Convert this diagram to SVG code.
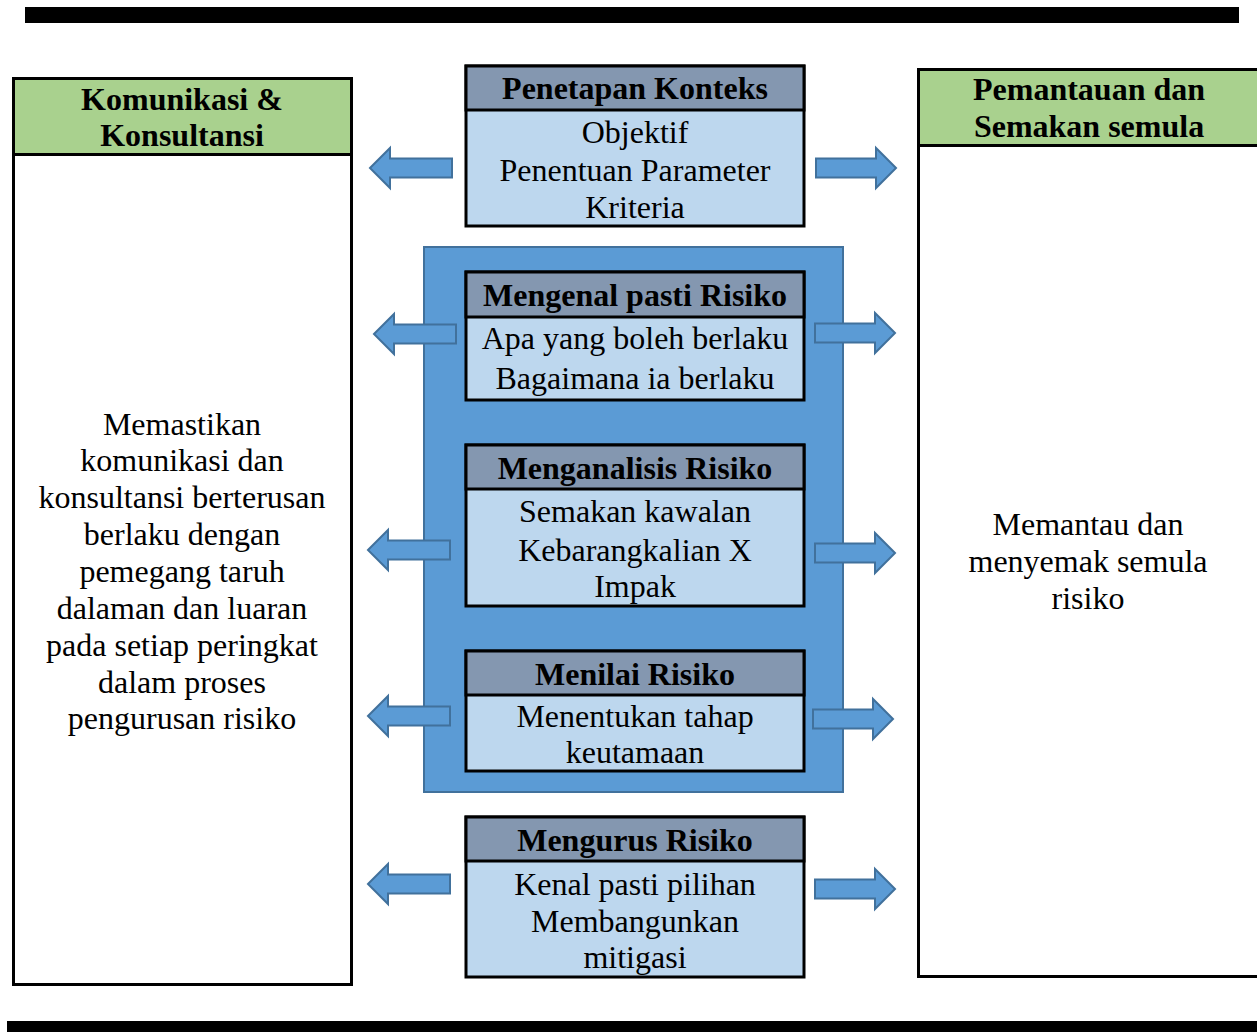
<svg xmlns="http://www.w3.org/2000/svg" width="1257" height="1032" viewBox="0 0 1257 1032">
<defs>
<style>
.t{font-family:"Liberation Serif","Times New Roman",serif;font-size:32px;fill:#000;text-anchor:middle}
.b{font-weight:bold}
.hd{fill:#8497b0;stroke:#000;stroke-width:3}
.bd{fill:#bdd7ee;stroke:#000;stroke-width:3}
.gr{fill:#a9d18e;stroke:#000;stroke-width:3}
.wh{fill:#fff;stroke:#000;stroke-width:3}
.ar{fill:#5b9bd5;stroke:#41719c;stroke-width:2;stroke-linejoin:miter}
</style>
<path id="la" d="M0,0 L20,-20 L20,-9.5 L82,-9.5 L82,9.5 L20,9.5 L20,20 Z"/>
<path id="ra" d="M0,0 L-20,-20 L-20,-9.5 L-80,-9.5 L-80,9.5 L-20,9.5 L-20,20 Z"/>
</defs>
<rect width="1257" height="1032" fill="#fff"/>
<rect x="25" y="7" width="1214" height="16" fill="#000"/>
<rect x="7" y="1021" width="1250" height="11" fill="#000"/>

<g id="komunikasi">
<rect class="wh" x="13.5" y="78.5" width="338" height="906"/>
<rect class="gr" x="13.5" y="78.5" width="338" height="76"/>
<text class="t b" x="182" y="110">Komunikasi &amp;</text>
<text class="t b" x="182" y="146">Konsultansi</text>
<text class="t" x="182" y="435">Memastikan</text>
<text class="t" x="182" y="471">komunikasi dan</text>
<text class="t" x="182" y="508">konsultansi berterusan</text>
<text class="t" x="182" y="545">berlaku dengan</text>
<text class="t" x="182" y="582">pemegang taruh</text>
<text class="t" x="182" y="619">dalaman dan luaran</text>
<text class="t" x="182" y="656">pada setiap peringkat</text>
<text class="t" x="182" y="693">dalam proses</text>
<text class="t" x="182" y="729">pengurusan risiko</text>
</g>

<g id="pemantauan">
<rect class="wh" x="918.5" y="69.5" width="344" height="907"/>
<rect class="gr" x="918.5" y="69.5" width="344" height="76"/>
<text class="t b" x="1089" y="100">Pemantauan dan</text>
<text class="t b" x="1089" y="137">Semakan semula</text>
<text class="t" x="1088" y="535">Memantau dan</text>
<text class="t" x="1088" y="572">menyemak semula</text>
<text class="t" x="1088" y="609">risiko</text>
</g>

<g id="penilaian">
<rect x="424" y="247" width="419" height="545" fill="#5b9bd5" stroke="#41719c" stroke-width="2"/>
</g>

<g id="penetapan">
<rect class="bd" x="466" y="66" width="338" height="160"/>
<rect class="hd" x="466" y="66" width="338" height="44"/>
<text class="t b" x="635" y="99">Penetapan Konteks</text>
<text class="t" x="635" y="143">Objektif</text>
<text class="t" x="635" y="181">Penentuan Parameter</text>
<text class="t" x="635" y="218">Kriteria</text>
</g>

<g id="mengenal">
<rect class="bd" x="466" y="272" width="338" height="128"/>
<rect class="hd" x="466" y="272" width="338" height="45"/>
<text class="t b" x="635" y="306">Mengenal pasti Risiko</text>
<text class="t" x="635" y="349">Apa yang boleh berlaku</text>
<text class="t" x="635" y="389">Bagaimana ia berlaku</text>
</g>

<g id="menganalisis">
<rect class="bd" x="466" y="445" width="338" height="161"/>
<rect class="hd" x="466" y="445" width="338" height="44"/>
<text class="t b" x="635" y="479">Menganalisis Risiko</text>
<text class="t" x="635" y="522">Semakan kawalan</text>
<text class="t" x="635" y="561">Kebarangkalian X</text>
<text class="t" x="635" y="597">Impak</text>
</g>

<g id="menilai">
<rect class="bd" x="466" y="651" width="338" height="120"/>
<rect class="hd" x="466" y="651" width="338" height="44"/>
<text class="t b" x="635" y="685">Menilai Risiko</text>
<text class="t" x="635" y="727">Menentukan tahap</text>
<text class="t" x="635" y="763">keutamaan</text>
</g>

<g id="mengurus">
<rect class="bd" x="466" y="817" width="338" height="160"/>
<rect class="hd" x="466" y="817" width="338" height="44"/>
<text class="t b" x="635" y="851">Mengurus Risiko</text>
<text class="t" x="635" y="895">Kenal pasti pilihan</text>
<text class="t" x="635" y="932">Membangunkan</text>
<text class="t" x="635" y="968">mitigasi</text>
</g>

<g id="connectors">
<use href="#la" class="ar" x="370" y="168"/>
<use href="#ra" class="ar" x="896" y="168"/>
<use href="#la" class="ar" x="374" y="334"/>
<use href="#ra" class="ar" x="895" y="333"/>
<use href="#la" class="ar" x="368" y="550"/>
<use href="#ra" class="ar" x="895" y="553"/>
<use href="#la" class="ar" x="368" y="716"/>
<use href="#ra" class="ar" x="893" y="719"/>
<use href="#la" class="ar" x="368" y="884"/>
<use href="#ra" class="ar" x="895" y="889"/>
</g>
</svg>
